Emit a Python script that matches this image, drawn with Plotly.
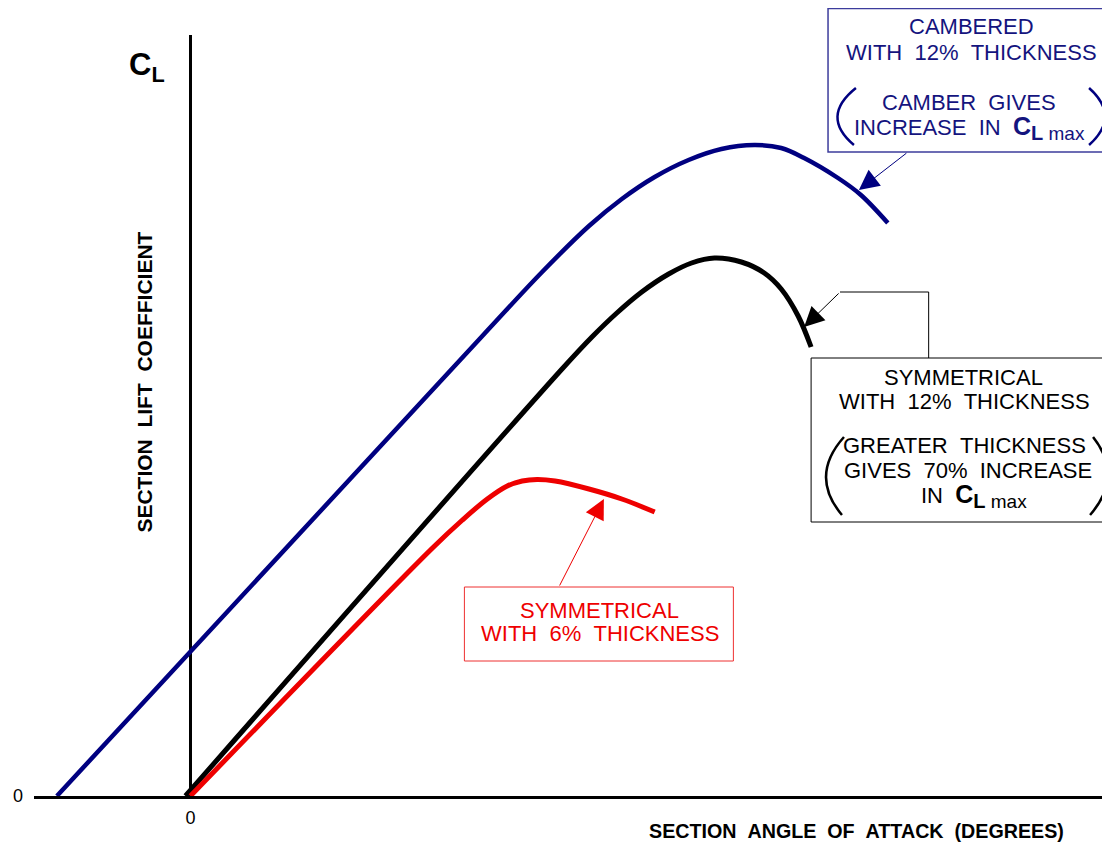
import plotly.graph_objects as go

# ---------------- data (angle of attack in degrees, section lift coefficient) -------------
cambered12_aoa = [-3.35, 7.325, 8.825, 10.0, 10.825, 11.65, 12.5, 13.325, 14.15, 14.825, 15.4, 16.25, 16.825, 17.5]
cambered12_cl = [0.0, 1.15, 1.31, 1.425, 1.4925, 1.5475, 1.59, 1.6175, 1.6275, 1.62, 1.595, 1.545, 1.5025, 1.4325]

sym12_aoa = [-0.125, 9.325, 10.075, 10.7, 11.325, 12.0, 12.575, 13.15, 13.825, 14.4, 14.825, 15.25, 15.575]
sym12_cl = [0.0, 1.0675, 1.1475, 1.2075, 1.26, 1.305, 1.3325, 1.345, 1.335, 1.3075, 1.2675, 1.2, 1.1225]

sym6_aoa = [0.0, 6.075, 6.825, 7.45, 7.95, 8.325, 8.7, 9.15, 10.0, 10.825, 11.65]
sym6_cl = [0.0, 0.62, 0.69, 0.7425, 0.775, 0.7875, 0.79125, 0.7875, 0.7675, 0.7425, 0.71]

x_tick_vals = [0]
x_tick_text = ["0"]
y_tick_vals = [0]
y_tick_text = ["0"]

# ---------------- layout helpers (page pixel -> paper) -------------
OFF = 8                      # default page margin around the plot div
W, H = 1110 - OFF, 844 - OFF
PLOT_L, PLOT_R, PLOT_T, PLOT_B = 30, 1105, 35, 796   # plot area on the page
ML, MT = PLOT_L - OFF, PLOT_T - OFF
MR, MB = W - (PLOT_R - OFF), H - (PLOT_B - OFF)


def fx(px):
    return (px - PLOT_L) / (PLOT_R - PLOT_L)


def fy(py):
    return (PLOT_B - py) / (PLOT_B - PLOT_T)


FONT = "Liberation Sans, Arial, sans-serif"
NAVY = "#000080"
NAVY_TXT = "#14147e"
RED = "#ee0000"
SP = "\u00a0\u00a0"

fig = go.Figure()
fig.add_trace(go.Scatter(x=cambered12_aoa, y=cambered12_cl, mode="lines",
                         line=dict(color=NAVY, width=4.5, shape="spline", smoothing=1.0),
                         hoverinfo="skip", showlegend=False))
fig.add_trace(go.Scatter(x=sym12_aoa, y=sym12_cl, mode="lines",
                         line=dict(color="black", width=5, shape="spline", smoothing=1.0),
                         hoverinfo="skip", showlegend=False))
fig.add_trace(go.Scatter(x=sym6_aoa, y=sym6_cl, mode="lines",
                         line=dict(color=RED, width=5, shape="spline", smoothing=1.0),
                         hoverinfo="skip", showlegend=False))

shapes = []
# boxes
shapes.append(dict(type="rect", xref="paper", yref="paper", x0=fx(827), x1=fx(1118), y0=fy(152), y1=fy(8.5),
                   line=dict(color="#3c3c9c", width=1.5)))
shapes.append(dict(type="rect", xref="paper", yref="paper", x0=fx(810), x1=fx(1118), y0=fy(522), y1=fy(358),
                   line=dict(color="black", width=1)))
shapes.append(dict(type="rect", xref="paper", yref="paper", x0=fx(462), x1=fx(732), y0=fy(661), y1=fy(587),
                   line=dict(color="#ee3030", width=1)))
# elbow leader of black label
shapes.append(dict(type="path", xref="paper", yref="paper",
                   path=f"M {fx(928)},{fy(358)} L {fx(928)},{fy(292)} L {fx(839)},{fy(292)}",
                   line=dict(color="black", width=1)))


def paren(xt, yt, xc, xb, yb, color):
    ym = (yt + yb) / 2
    return dict(type="path", xref="paper", yref="paper",
                path=f"M {fx(xt)},{fy(yt)} Q {fx(xc)},{fy(ym)} {fx(xb)},{fy(yb)}",
                line=dict(color=color, width=2.5))


shapes.append(paren(855, 88, 819, 853, 145, NAVY))
shapes.append(paren(1089, 88, 1121, 1089, 145, NAVY))
shapes.append(paren(843, 437, 808, 841, 515, "black"))
shapes.append(paren(1093, 437, 1124, 1090, 515, "black"))

ann = []


def txt(text, px, py, size=22, color="black", **kw):
    d = dict(text=text, xref="paper", yref="paper", x=fx(px), y=fy(py), showarrow=False,
             xanchor="center", yanchor="middle", font=dict(family=FONT, size=size, color=color))
    d.update(kw)
    ann.append(d)


def arrow(tip_px, tip_py, tail_px, tail_py, color):
    ann.append(dict(text="", xref="paper", yref="paper", x=fx(tip_px), y=fy(tip_py),
                    ax=tail_px - tip_px, ay=tail_py - tip_py, showarrow=True,
                    arrowhead=2, arrowsize=4, arrowwidth=1, arrowcolor=color, standoff=0))


CLMAX = ('<span style="font-size:25px;font-weight:bold">C</span>'
         '<sub><span style="font-size:20px;font-weight:bold">L</span>'
         '<span style="font-size:19px"> max</span></sub>')

# blue label
txt("CAMBERED", 971, 27, color=NAVY_TXT)
txt(f"WITH{SP}12%{SP}THICKNESS", 971, 52, color=NAVY_TXT)
txt(f"CAMBER{SP}GIVES", 968, 102, color=NAVY_TXT)
txt(f"INCREASE{SP}IN{SP}" + CLMAX, 969, 128, color=NAVY_TXT)
arrow(858, 190, 907, 152, NAVY)

# black label
txt("SYMMETRICAL", 963, 377)
txt(f"WITH{SP}12%{SP}THICKNESS", 964, 401)
txt(f"GREATER{SP}THICKNESS", 964, 445)
txt(f"GIVES{SP}70%{SP}INCREASE", 967, 470)
txt(f"IN{SP}" + CLMAX, 974, 496)
arrow(803, 327, 839, 292, "black")

# red label
txt("SYMMETRICAL", 598, 610, color=RED)
txt(f"WITH{SP}6%{SP}THICKNESS", 598, 633, color=RED)
arrow(602, 499, 557, 587, RED)

# axis titles
txt(f"<b>SECTION{SP}ANGLE{SP}OF{SP}ATTACK{SP}(DEGREES)</b>", 856, 831, size=19.7)
txt(f"<b>SECTION{SP}LIFT{SP}COEFFICIENT</b>", 140, 382, size=21, textangle=-90)
txt("<b>C<sub>L</sub></b>", 143, 67, size=31)

fig.update_layout(
    width=W, height=H, autosize=False,
    margin=dict(l=ML, r=MR, t=MT, b=MB),
    paper_bgcolor="white", plot_bgcolor="white",
    font=dict(family=FONT, size=18, color="black"),
    shapes=shapes, annotations=ann,
    xaxis=dict(range=[-3.925, 22.95], showgrid=False, zeroline=True, zerolinecolor="black",
               zerolinewidth=3, showline=True, linecolor="black", linewidth=3,
               tickvals=x_tick_vals, ticktext=x_tick_text, ticks="", ticklabelstandoff=3,
               tickfont=dict(size=18, color="black"), fixedrange=True),
    yaxis=dict(range=[0, 1.9025], showgrid=False, zeroline=False, showline=False,
               tickvals=y_tick_vals, ticktext=y_tick_text, ticks="", ticklabelstandoff=10,
               tickfont=dict(size=18, color="black"), fixedrange=True),
)

fig.write_html("out.html")
